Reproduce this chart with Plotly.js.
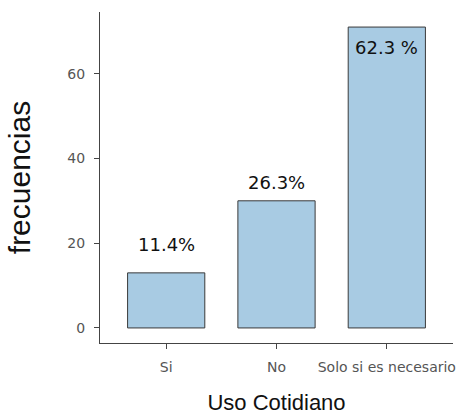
<!DOCTYPE html>
<html>
<head>
<meta charset="utf-8">
<script src="https://cdn.plot.ly/plotly-3.0.1.min.js"></script>
<style>html,body{margin:0;padding:0;background:#fff;}#chart{width:461px;height:415px;}</style>
</head>
<body>
<div id="chart"></div>
<script>
const categories = ["Si", "No", "Solo si es necesario"];
const frequencies = [13, 30, 71];
const percentLabels = ["11.4%", "26.3%", "62.3 %"];
const yTicks = [0, 20, 40, 60];

// label placement style (pixels): positive = above bar top, negative = inside below top
const labelShiftPx = [16, 6, -8];

const trace = {
  type: "bar",
  x: categories,
  y: frequencies,
  width: 0.7,
  marker: {color: "#a8cbe3", line: {color: "#3a3a3a", width: 1}},
  hoverinfo: "none"
};

const annotations = categories.map((c, i) => ({
  x: c, y: frequencies[i], xref: "x", yref: "y",
  text: percentLabels[i],
  showarrow: false,
  xanchor: "center",
  yanchor: labelShiftPx[i] >= 0 ? "bottom" : "top",
  yshift: labelShiftPx[i],
  font: {family: "DejaVu Sans, sans-serif", size: 18, color: "#111"}
}));

const layout = {
  width: 461, height: 415,
  margin: {l: 100, r: 8, t: 12, b: 72},
  paper_bgcolor: "#fff", plot_bgcolor: "#fff",
  showlegend: false,
  font: {family: "Liberation Sans, Arial, sans-serif"},
  annotations: annotations,
  xaxis: {
    type: "category",
    range: [-0.6, 2.6],
    showline: true, linecolor: "#444", linewidth: 1,
    ticks: "outside", ticklen: 5, tickcolor: "#444",
    ticklabelstandoff: 6,
    tickfont: {family: "DejaVu Sans, sans-serif", size: 14, color: "#555"},
    showgrid: false, zeroline: false,
    title: {text: "Uso Cotidiano", font: {size: 22, color: "#111"}, standoff: 23}
  },
  yaxis: {
    range: [-3.55, 74.55],
    tickvals: yTicks,
    showline: true, linecolor: "#444", linewidth: 1,
    ticks: "outside", ticklen: 5, tickcolor: "#444",
    ticklabelstandoff: 6,
    tickfont: {family: "DejaVu Sans, sans-serif", size: 14, color: "#555"},
    showgrid: false, zeroline: false,
    title: {text: "frecuencias", font: {size: 30, color: "#111"}, standoff: 27}
  }
};

Plotly.newPlot("chart", [trace], layout, {staticPlot: true, displayModeBar: false});
</script>
</body>
</html>
